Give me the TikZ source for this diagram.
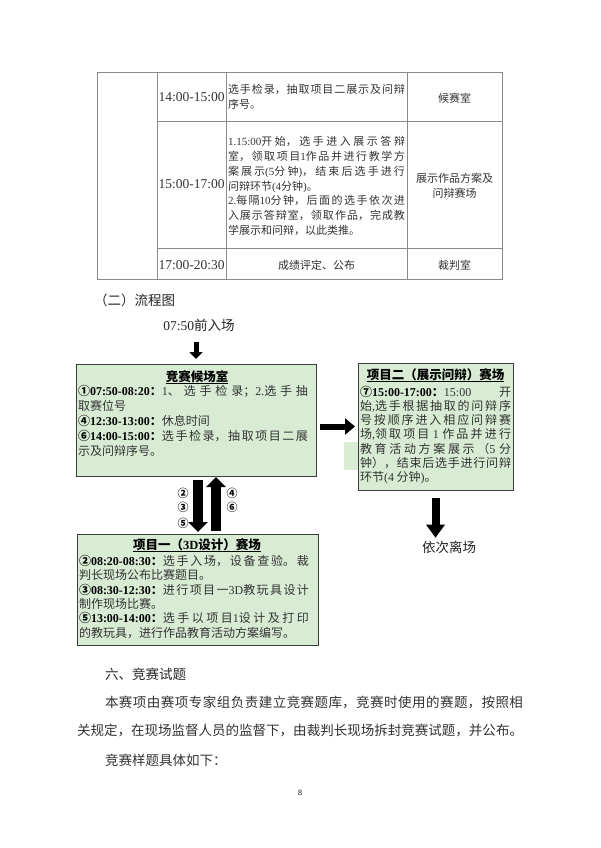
\documentclass[tikz,border=0pt]{standalone}
\usepackage{fontspec}
\setmainfont{Noto Sans CJK SC}
\newfontfamily\lat{Liberation Serif}
\usetikzlibrary{arrows.meta}
\XeTeXlinebreaklocale "zh"
\XeTeXlinebreakskip=0pt plus 4pt
\setlength\parindent{0pt}
\definecolor{boxfill}{HTML}{D8ECD4}
\definecolor{boxline}{HTML}{3C3C3C}
\definecolor{txt}{HTML}{333333}
\definecolor{tline}{HTML}{8A8A8A}
\newcommand\myfs[2]{\fontsize{#1}{#2}\selectfont}
\newcommand\bt[1]{{\color{black}\bfseries #1}}
\newcommand\ttl[1]{\setbox0\hbox{#1}\leavevmode\rlap{\rule[-2.5pt]{\wd0}{1pt}}\box0}
\begin{document}
\begin{tikzpicture}[x=1pt,y=-1pt,
  every node/.style={inner sep=0pt,outer sep=0pt},
  tl/.style={draw=tline,line width=0.8pt},
  flowbox/.style={draw=boxline,fill=boxfill,line width=1pt,rectangle},
  cell/.style={font=\myfs{11}{14.8},text=txt},
  jcell/.style={cell,anchor=north west,text width=177pt,align=justify},
  tm/.style={font=\myfs{13.5}{16}\lat,text=txt},
  body/.style={anchor=north west,align=justify,font=\myfs{12}{15},text=txt},
  bttl/.style={font=\myfs{12.5}{15}\bfseries,text=black},
  circ/.style={font=\myfs{11}{13}\bfseries,text=black},
  head/.style={font=\myfs{13.5}{16},text=black!85},
  ptext/.style={anchor=west,font=\myfs{13.5}{16},text=txt},
  pjust/.style={anchor=north west,align=justify,font=\myfs{13.5}{16},text=txt},
  arr/.style={draw=black,line cap=butt},
  arrT/.style={arr,line width=5pt,-{Triangle[length=7pt,width=13pt]}},
  arrV/.style={arr,line width=9.5pt,-{Triangle[length=10pt,width=19pt]}},
  arrH/.style={arr,line width=6pt,-{Triangle[length=10pt,width=16pt]}},
  arrD/.style={arr,line width=8pt,-{Triangle[length=13pt,width=18pt]}}]
\useasboundingbox[fill=white] (0,0) rectangle (600,848);

% ---------- table ----------
\draw[tl] (97,72) rectangle (502,279);
\draw[tl] (157,72) -- (157,279) (226,72) -- (226,279) (407,72) -- (407,279);
\draw[tl] (157,121) -- (502,121) (157,248) -- (502,248);

\node[tm] (t1) at (191.5,97) {14:00-15:00};
\node[tm] (t2) at (191.5,184.5) {15:00-17:00};
\node[tm] (t3) at (191.5,265) {17:00-20:30};

\node[jcell] (c1) at (228,84.5) {选手检录，抽取项目二展示及问辩\linebreak 序号。};
\node[jcell] (c2) at (228,136.5) {{\lat 1.15:00}开始，选手进入展示答辩\linebreak 室，领取项目{\lat 1}作品并进行教学方\linebreak 案展示{\lat (5}分钟{\lat )}，结束后选手进行\linebreak 问辩环节{\lat (4}分钟{\lat )}。\par
{\lat 2.}每隔{\lat 10}分钟，后面的选手依次进\linebreak 入展示答辩室，领取作品，完成教\linebreak 学展示和问辩，以此类推。};
\node[cell] (c3) at (316.5,265) {成绩评定、公布};

\node[cell] (p1) at (454.5,98) {候赛室};
\node[cell,align=center,font=\myfs{11}{15}] (p2) at (454.5,185.5) {展示作品方案及\\问辩赛场};
\node[cell] (p3) at (454.5,265) {裁判室};

% ---------- flow chart ----------
\node[head,anchor=west] (h2) at (94,300) {（二）流程图};
\node[head] (e0) at (199,325) {{\lat 07:50}前入场};

\node[flowbox,minimum width=240pt,minimum height=112pt] (b1) at (196,420) {};
\fill[boxfill] (344,442) rectangle (358,470);
\node[flowbox,minimum width=155pt,minimum height=127pt] (b2) at (435.5,426.5) {};
\node[flowbox,minimum width=241pt,minimum height=111pt] (b3) at (197.5,589.5) {};

\node[bttl] (b1h) at (197,377) {\ttl{竞赛候场室}};
\node[body,text width=230pt] (b1t) at (78,385) {\bt{①{\lat 07:50-08:20}：}{\lat 1}、选手检录；{\lat 2.}选手抽\linebreak 取赛位号\par
\bt{④{\lat 12:30-13:00}：}休息时间\par
\bt{⑥{\lat 14:00-15:00}：}选手检录，抽取项目二展\linebreak 示及问辩序号。};

\node[bttl] (b2h) at (435.5,375) {\ttl{项目二（展示问辩）赛场}};
\node[body,text width=151pt,font=\myfs{12}{14.2}] (b2t) at (360,386) {\bt{⑦{\lat 15:00-17:00}：}{\lat 15:00} 开\linebreak 始{\lat ,}选手根据抽取的问辩序\linebreak 号按顺序进入相应问辩赛\linebreak 场{\lat ,}领取项目 {\lat 1} 作品并进行\linebreak 教育活动方案展示（{\lat 5} 分\linebreak 钟），结束后选手进行问辩\linebreak 环节{\lat (4} 分钟{\lat )}。};

\node[bttl] (b3h) at (197,545) {\ttl{项目一（{\lat\bfseries 3D}设计）赛场}};
\node[body,text width=230pt,font=\myfs{12}{14.4}] (b3t) at (79,555) {\bt{②{\lat 08:20-08:30}：}选手入场，设备查验。裁\linebreak 判长现场公布比赛题目。\par
\bt{③{\lat 08:30-12:30}：}进行项目一{\lat 3D}教玩具设计\linebreak 制作现场比赛。\par
\bt{⑤{\lat 13:00-14:00}：}选手以项目{\lat 1}设计及打印\linebreak 的教玩具，进行作品教育活动方案编写。};

\node[head] (e1) at (449,547) {依次离场};

\node[circ] (n2) at (183,493) {②};
\node[circ] (n3) at (183,507.5) {③};
\node[circ] (n5) at (183,523) {⑤};
\node[circ] (n4) at (232,493) {④};
\node[circ] (n6) at (232,507.5) {⑥};

% arrows
\draw[arrT,shorten <=11pt,shorten >=5pt] (e0.south -| b1.north) -- (b1.north);
\draw[arrH,shorten <=4pt,shorten >=3pt] (b1.east |- b2.west) -- (b2.west);
\draw[arrV,shorten <=4pt,shorten >=2pt] ([xshift=2pt]b1.south) -- ([xshift=2pt]b1.south |- b3.north);
\draw[arrV,shorten <=3pt,shorten >=1pt] ([xshift=18.5pt]b3.north) -- ([xshift=18.5pt]b3.north |- b1.south);
\draw[arrD,shorten <=8pt,shorten >=3pt] (b2.south) -- (b2.south |- e1.north);

% ---------- text below ----------
\node[ptext,text=black!85] (s6) at (105,674) {六、竞赛试题};
\node[pjust,text width=418pt] (pa1) at (105,696.3) {本赛项由赛项专家组负责建立竞赛题库，竞赛时使用的赛题，按照相\linebreak};
\node[pjust,text width=446pt] (pa2) at (77,724.3) {关规定，在现场监督人员的监督下，由裁判长现场拆封竞赛试题，并公布。\linebreak};
\node[ptext] (pa3) at (105,760) {竞赛样题具体如下：};
\node[font=\myfs{8}{10}\lat,text=black] (pg) at (300,793) {8};
\end{tikzpicture}
\end{document}
